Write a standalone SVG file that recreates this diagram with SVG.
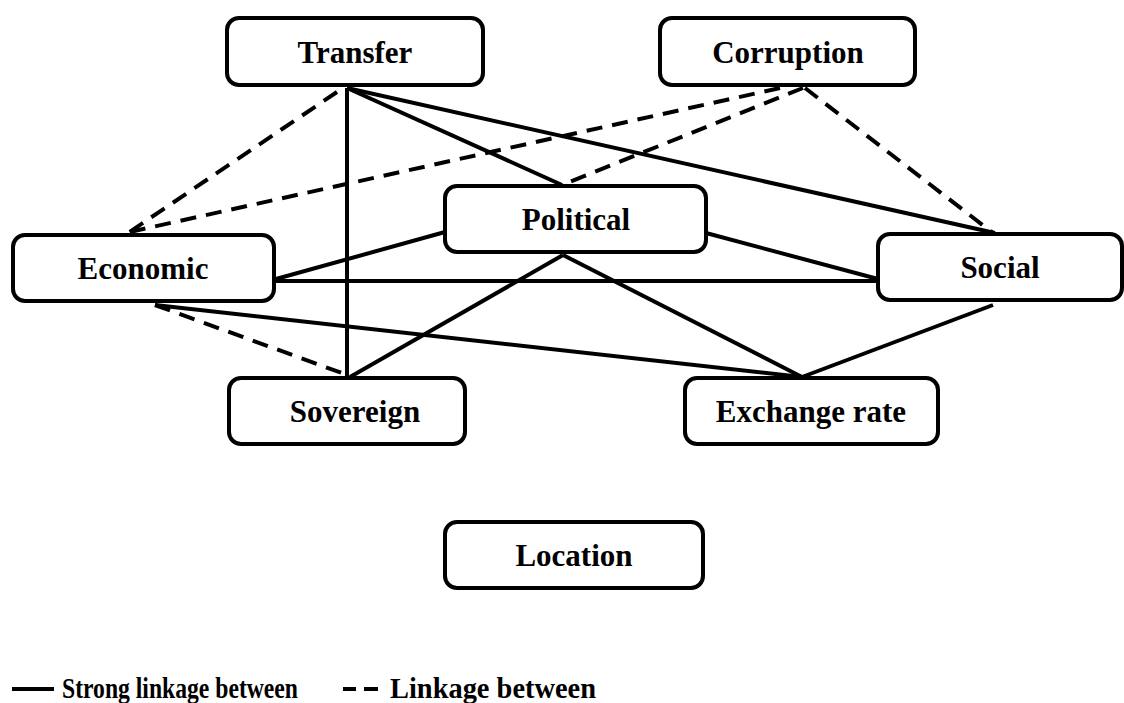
<svg xmlns="http://www.w3.org/2000/svg" width="1124" height="703" viewBox="0 0 1124 703">
<style>
.box{fill:#fff;stroke:#000;stroke-width:4}
.lbl{font-family:"Liberation Serif","Times New Roman",serif;font-weight:bold;font-size:31px;text-anchor:middle;fill:#000}
.leg{font-family:"Liberation Serif","Times New Roman",serif;font-weight:bold;font-size:29px;fill:#000}
.s{stroke:#000;stroke-width:4;fill:none}
.d{stroke:#000;stroke-width:4;fill:none;stroke-dasharray:16 10}
</style>
<rect width="1124" height="703" fill="#fff"/>
<g id="connectors">
<line class="s" x1="347" y1="88" x2="347" y2="376"/>
<line class="s" x1="347" y1="88" x2="562" y2="185"/>
<line class="s" x1="347" y1="88" x2="995" y2="233"/>
<line class="s" x1="276" y1="279" x2="445" y2="232"/>
<line class="s" x1="276" y1="281" x2="878" y2="281"/>
<line class="s" x1="706" y1="233" x2="878" y2="279"/>
<line class="s" x1="563" y1="255" x2="350" y2="377"/>
<line class="s" x1="563" y1="255" x2="802" y2="377"/>
<line class="s" x1="155" y1="305" x2="802" y2="377"/>
<line class="s" x1="993" y1="305" x2="802" y2="377"/>
<line class="d" x1="337" y1="92" x2="128" y2="233"/>
<line class="d" x1="780" y1="88" x2="125" y2="233"/>
<line class="d" x1="803" y1="88" x2="562" y2="185"/>
<line class="d" x1="805" y1="88" x2="993" y2="233"/>
<line class="d" x1="155" y1="305" x2="350" y2="376"/>
</g>
<g id="node-transfer"><rect class="box" x="227" y="18" width="256" height="67" rx="12"/><text class="lbl" x="355" y="63">Transfer</text></g>
<g id="node-corruption"><rect class="box" x="660" y="18" width="255" height="67" rx="12"/><text class="lbl" x="788" y="63">Corruption</text></g>
<g id="node-political"><rect class="box" x="445" y="186" width="261" height="66" rx="12"/><text class="lbl" x="576" y="230">Political</text></g>
<g id="node-economic"><rect class="box" x="13" y="235" width="261" height="66" rx="12"/><text class="lbl" x="143" y="279">Economic</text></g>
<g id="node-social"><rect class="box" x="878" y="234" width="244" height="66" rx="12"/><text class="lbl" x="1000" y="278">Social</text></g>
<g id="node-sovereign"><rect class="box" x="229" y="378" width="236" height="66" rx="12"/><text class="lbl" x="355" y="422">Sovereign</text></g>
<g id="node-exchange"><rect class="box" x="685" y="378" width="253" height="66" rx="12"/><text class="lbl" x="811" y="422">Exchange rate</text></g>
<g id="node-location"><rect class="box" x="445" y="522" width="258" height="66" rx="12"/><text class="lbl" x="574" y="566">Location</text></g>
<g id="legend">
<line x1="12" y1="689" x2="54" y2="689" stroke="#000" stroke-width="4"/>
<text class="leg" x="62" y="698" textLength="236" lengthAdjust="spacingAndGlyphs">Strong linkage between</text>
<line x1="343" y1="689" x2="356" y2="689" stroke="#000" stroke-width="4"/>
<line x1="364" y1="689" x2="378" y2="689" stroke="#000" stroke-width="4"/>
<text class="leg" x="390" y="698" textLength="206" lengthAdjust="spacingAndGlyphs">Linkage between</text>
</g>
</svg>
